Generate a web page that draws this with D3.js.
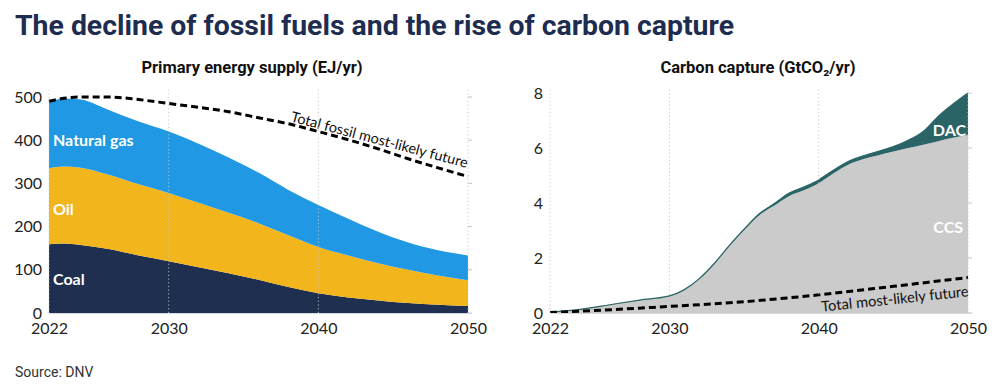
<!DOCTYPE html>
<html>
<head>
<meta charset="utf-8">
<script src="https://cdn.jsdelivr.net/npm/d3@7"></script>
<style>
  html, body { margin: 0; padding: 0; background: #fff; }
  svg { display: block; }
</style>
</head>
<body>
<svg id="chart" width="1000" height="392"></svg>
<script>
// ---------- DATA ----------
const energyYears = [2022, 2023, 2024, 2026, 2028, 2030, 2032, 2034, 2036, 2038, 2040, 2042, 2044, 2046, 2048, 2050];
const coal = [159, 161, 158, 148, 133, 120, 106, 92, 77, 60, 46, 36, 29, 23, 19, 16];
const oil  = [176, 178, 179, 172, 165, 158, 149, 140, 131, 120, 107, 97, 86, 77, 68, 60];
const gas  = [155, 157, 158, 150, 145, 142, 137, 128, 117, 105, 97, 85, 73, 63, 58, 57];
const fossilTotalMostLikely = [490, 497, 500, 500, 494, 485, 476, 466, 452, 438, 420, 401, 380, 357, 336, 316];

const captureYears = [2022, 2024, 2026, 2028, 2030, 2031, 2032, 2033, 2034, 2035, 2036, 2037, 2038, 2039, 2040, 2041, 2042, 2043, 2044, 2045, 2046, 2047, 2048, 2049, 2050];
const ccs = [0.02, 0.12, 0.29, 0.46, 0.61, 0.84, 1.23, 1.77, 2.42, 3.01, 3.55, 3.90, 4.25, 4.46, 4.72, 5.08, 5.40, 5.60, 5.74, 5.87, 6.00, 6.12, 6.25, 6.37, 6.47];
const dac = [0.01, 0.01, 0.01, 0.01, 0.01, 0.01, 0.02, 0.03, 0.03, 0.04, 0.05, 0.07, 0.10, 0.12, 0.12, 0.12, 0.12, 0.12, 0.14, 0.18, 0.28, 0.48, 0.90, 1.23, 1.53];
const captureLikelyYears = [2022, 2025, 2030, 2035, 2040, 2045, 2050];
const captureTotalMostLikely = [0.02, 0.09, 0.24, 0.41, 0.66, 0.97, 1.29];

const xTickYears = [2022, 2030, 2040, 2050];
const energyTicks = [0, 100, 200, 300, 400, 500];
const captureTicks = [0, 2, 4, 6, 8];

// ---------- STYLE ----------
const C = {
  title: "#1e2d4f", coal: "#1e2f50", oil: "#f2b61c", gas: "#2198e3",
  ccs: "#cbcbcb", dac: "#2a6466", text: "#222", grid: "#c4c4c4"
};
const svg = d3.select("#chart");

svg.append("text").attr("x", 15).attr("y", 35)
  .attr("font-family", "Roboto").attr("font-weight", 700).attr("font-size", 28.4)
  .attr("fill", C.title).text("The decline of fossil fuels and the rise of carbon capture");

svg.append("text").attr("x", 15).attr("y", 377)
  .attr("font-family", "Roboto").attr("font-size", 14).attr("fill", "#333").text("Source: DNV");

function panel(opts) {
  const x = d3.scaleLinear().domain([2022, 2050]).range(opts.xr);
  const y = d3.scaleLinear().domain(opts.yd).range([313, opts.yTop]);
  const g = svg.append("g");

  g.append("text").attr("x", opts.subX).attr("y", 73).attr("text-anchor", "middle")
    .attr("font-family", "Roboto").attr("font-weight", 700).attr("font-size", 16.5)
    .attr("fill", "#111").text(opts.subtitle);

  opts.draw(g, x, y);

  g.selectAll("line.vgrid").data(xTickYears).join("line")
    .attr("x1", d => x(d)).attr("x2", d => x(d)).attr("y1", 313).attr("y2", 90)
    .attr("stroke", C.grid).attr("stroke-width", 1).attr("stroke-dasharray", "1.2,2.5").attr("opacity", 0.9);
  g.selectAll("line.rtick").data(opts.ticks).join("line")
    .attr("x1", x(2050)).attr("x2", x(2050) + 4).attr("y1", d => y(d)).attr("y2", d => y(d))
    .attr("stroke", C.grid).attr("stroke-width", 1);
  g.append("line").attr("x1", x(2022)).attr("x2", x(2050) + 4).attr("y1", 313.5).attr("y2", 313.5)
    .attr("stroke", "#d3dae2").attr("stroke-width", 1);

  const ya = d3.axisLeft(y).tickValues(opts.ticks).tickSize(0).tickPadding(7);
  const yg = g.append("g").attr("transform", `translate(${x(2022)},0)`).call(ya);
  yg.select(".domain").remove();
  yg.selectAll("text").attr("font-family", "Lato").attr("font-size", 16).attr("fill", C.text);

  const xa = d3.axisBottom(x).tickValues(xTickYears).tickFormat(d3.format("d")).tickSize(0).tickPadding(10);
  const xg = g.append("g").attr("transform", "translate(0,313)").call(xa);
  xg.select(".domain").remove();
  xg.selectAll("text").attr("font-family", "Lato").attr("font-size", 16).attr("fill", C.text);

  return { x, y, g };
}

// ---------- LEFT PANEL ----------
panel({
  xr: [49, 468], yd: [0, 500], yTop: 97, subX: 252,
  subtitle: "Primary energy supply (EJ/yr)", ticks: energyTicks,
  draw: (g, x, y) => {
    const rows = energyYears.map((yr, i) => ({ year: yr, coal: coal[i], oil: oil[i], gas: gas[i] }));
    const stack = d3.stack().keys(["coal", "oil", "gas"])(rows);
    const color = { coal: C.coal, oil: C.oil, gas: C.gas };
    const area = d3.area().x(d => x(d.data.year)).y0(d => y(d[0])).y1(d => y(d[1])).curve(d3.curveMonotoneX);
    g.selectAll("path.layer").data(stack).join("path")
      .attr("d", area).attr("fill", d => color[d.key]);

    const line = d3.line().x((d, i) => x(energyYears[i])).y(d => y(d)).curve(d3.curveMonotoneX);
    g.append("path").attr("d", line(fossilTotalMostLikely)).attr("fill", "none")
      .attr("stroke", "#000").attr("stroke-width", 3).attr("stroke-dasharray", "7,4");

    const lab = (t, v) => g.append("text").attr("x", x(2022) + 4).attr("y", y(v))
      .attr("dy", "0.35em").attr("font-family", "Lato").attr("font-weight", 700)
      .attr("font-size", 16).attr("fill", "#fff").text(t);
    lab("Natural gas", 400);
    lab("Oil", 240);
    lab("Coal", 77);

    const p0 = [x(2038.1), y(437) - 3];
    const p1 = [x(2049.6), y(320) - 8];
    const ang = Math.atan2(p1[1] - p0[1], p1[0] - p0[0]) * 180 / Math.PI;
    g.append("text").attr("transform", `translate(${p0[0]},${p0[1]}) rotate(${ang})`)
      .attr("font-family", "Lato").attr("font-size", 14.5).attr("fill", "#111")
      .text("Total fossil most-likely future");
  }
});

// ---------- RIGHT PANEL ----------
panel({
  xr: [550, 968], yd: [0, 8], yTop: 93, subX: 758,
  subtitle: "Carbon capture (GtCO\u2082/yr)", ticks: captureTicks,
  draw: (g, x, y) => {
    const rows = captureYears.map((yr, i) => ({ year: yr, ccs: ccs[i], dac: dac[i] }));
    const stack = d3.stack().keys(["ccs", "dac"])(rows);
    const color = { ccs: C.ccs, dac: C.dac };
    const area = d3.area().x(d => x(d.data.year)).y0(d => y(d[0])).y1(d => y(d[1])).curve(d3.curveMonotoneX);
    g.selectAll("path.layer").data(stack).join("path")
      .attr("d", area).attr("fill", d => color[d.key]);
    const top = d3.line().x(d => x(d.data.year)).y(d => y(d[1])).curve(d3.curveMonotoneX);
    g.append("path").attr("d", top(stack[1])).attr("fill", "none")
      .attr("stroke", C.dac).attr("stroke-width", 1.2);

    const line = d3.line().x((d, i) => x(captureLikelyYears[i])).y(d => y(d)).curve(d3.curveMonotoneX);
    g.append("path").attr("d", line(captureTotalMostLikely)).attr("fill", "none")
      .attr("stroke", "#000").attr("stroke-width", 3).attr("stroke-dasharray", "7,4");

    g.append("text").attr("x", x(2050) - 2).attr("y", y(6.65)).attr("dy", "0.35em")
      .attr("text-anchor", "end").attr("font-family", "Lato").attr("font-weight", 700)
      .attr("font-size", 16).attr("fill", "#fff").text("DAC");
    g.append("text").attr("x", x(2050) - 5).attr("y", y(3.13)).attr("dy", "0.35em")
      .attr("text-anchor", "end").attr("font-family", "Lato").attr("font-weight", 700)
      .attr("font-size", 16).attr("fill", "#fff").text("CCS");

    const p0 = [x(2040.2), y(0.66) + 16.8];
    const p1 = [x(2049.9), y(1.29) + 19];
    const ang = Math.atan2(p1[1] - p0[1], p1[0] - p0[0]) * 180 / Math.PI;
    g.append("text").attr("transform", `translate(${p0[0]},${p0[1]}) rotate(${ang})`)
      .attr("font-family", "Lato").attr("font-size", 14.7).attr("fill", "#111")
      .text("Total most-likely future");
  }
});
</script>
</body>
</html>
